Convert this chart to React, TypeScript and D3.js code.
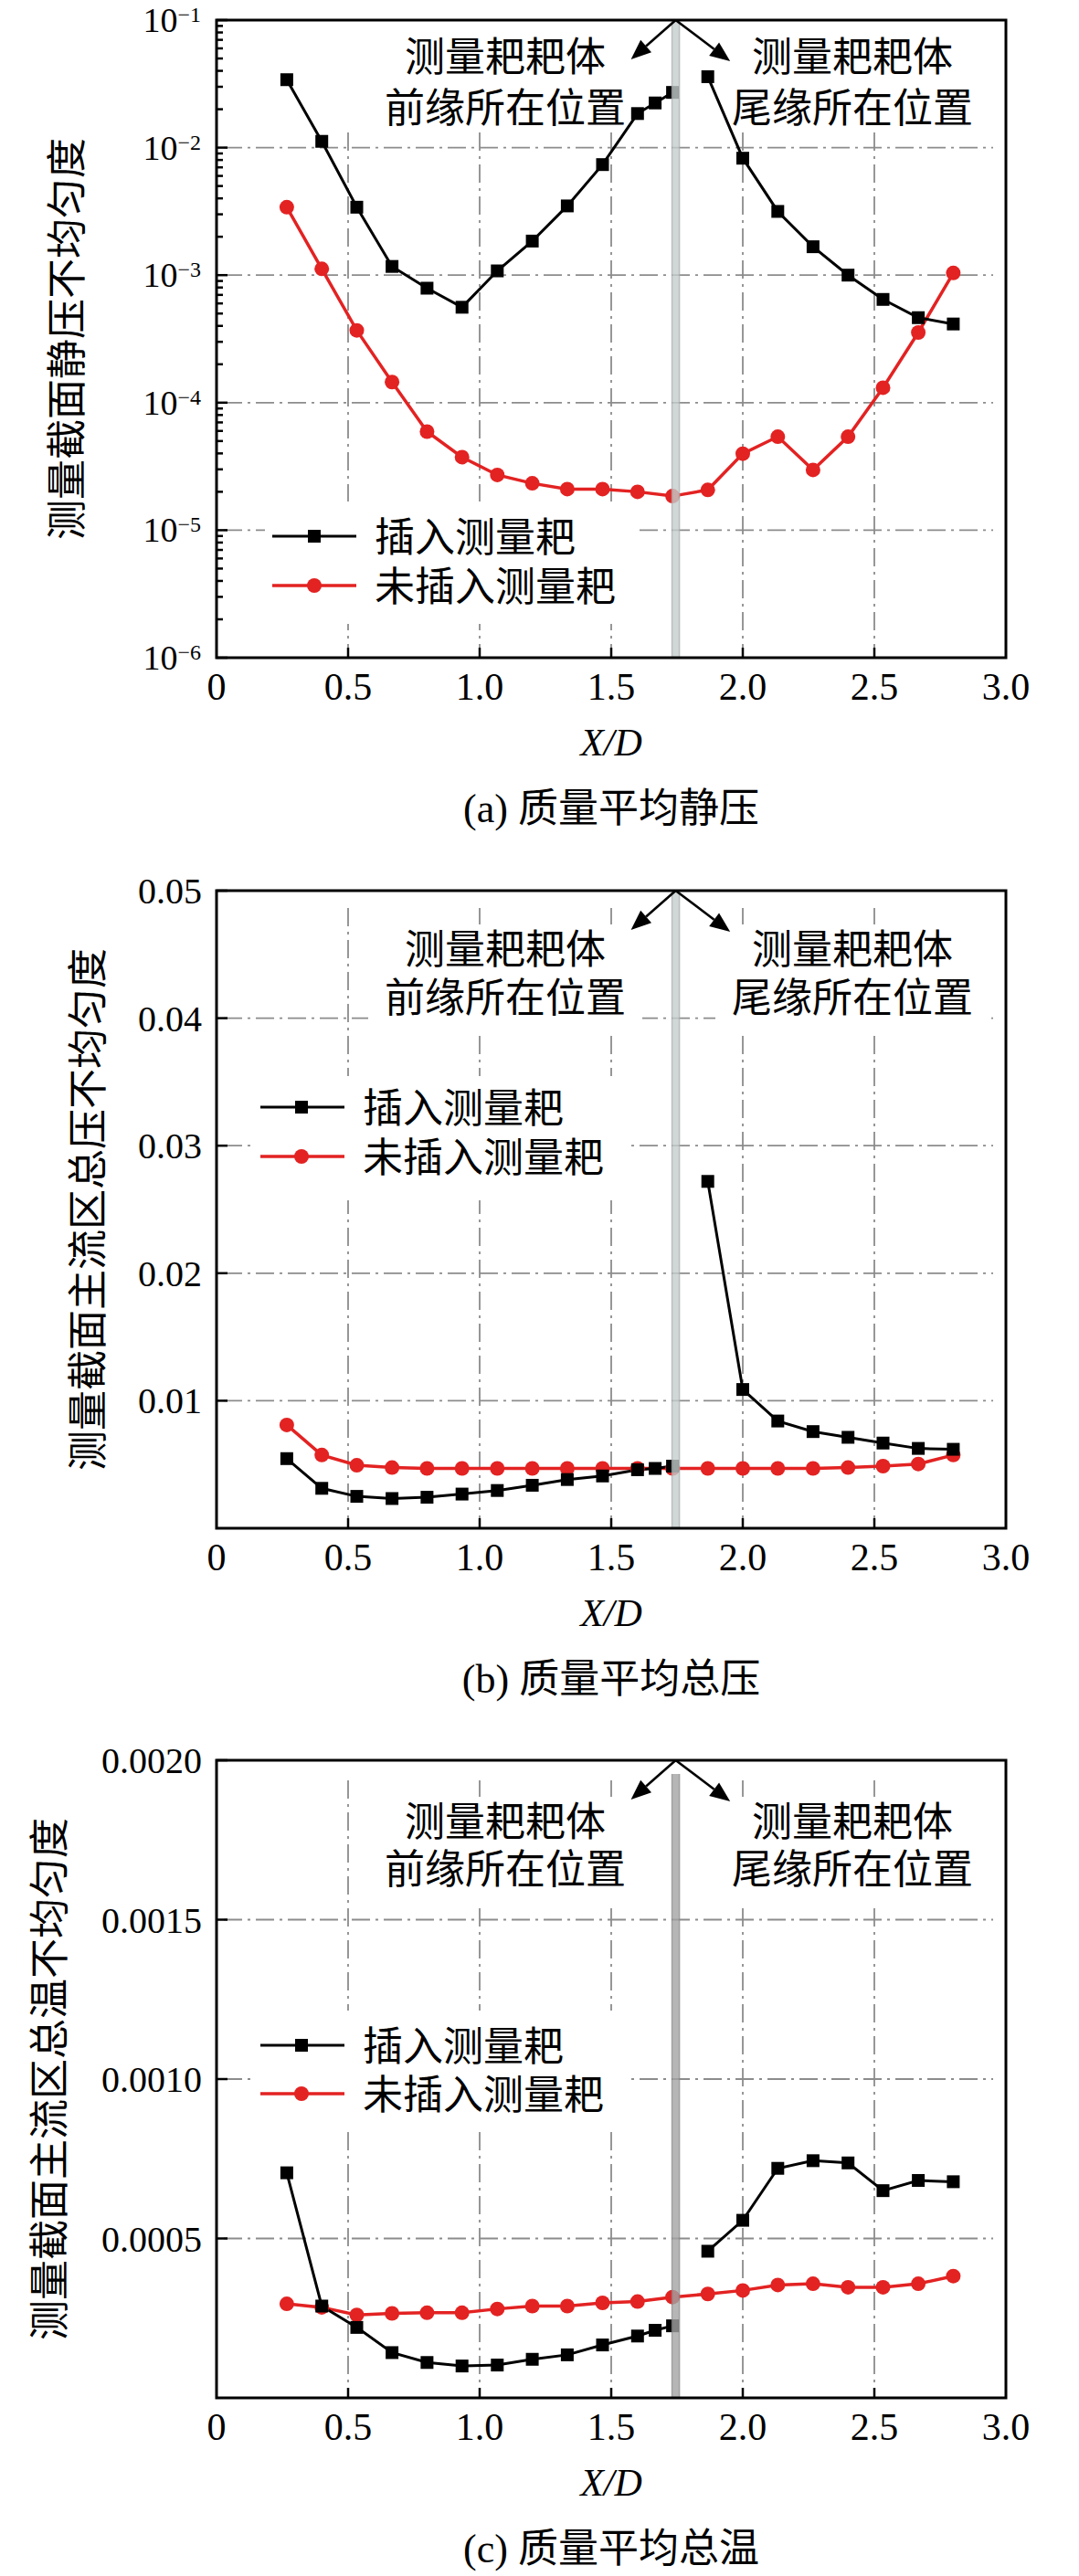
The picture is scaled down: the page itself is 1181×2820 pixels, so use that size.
import React from 'react';
import * as d3 from 'd3';

// x/D stations (black series has one extra station at 1.667)
const xBlack = [0.267, 0.4, 0.533, 0.667, 0.8, 0.933, 1.067, 1.2, 1.333, 1.467, 1.6, 1.667, 1.733, 1.867, 2.0, 2.133, 2.267, 2.4, 2.533, 2.667, 2.8];
const xRed = [0.267, 0.4, 0.533, 0.667, 0.8, 0.933, 1.067, 1.2, 1.333, 1.467, 1.6, 1.733, 1.867, 2.0, 2.133, 2.267, 2.4, 2.533, 2.667, 2.8];
const gapAfter = 12; // black line is broken across the rake body

const staticBlack = [0.0341, 0.0112, 0.00341, 0.00117, 0.00079, 0.00056, 0.00108, 0.00185, 0.00349, 0.00736, 0.0185, 0.0224, 0.0271, 0.036, 0.00826, 0.00316, 0.00167, 0.001, 0.000645, 0.000464, 0.000414];
const staticRed = [0.00341, 0.00112, 0.000369, 0.000145, 5.93e-5, 3.74e-5, 2.71e-5, 2.33e-5, 2.1e-5, 2.1e-5, 2.0e-5, 1.85e-5, 2.07e-5, 3.98e-5, 5.41e-5, 2.97e-5, 5.41e-5, 1.31e-4, 3.55e-4, 1.04e-3];

const totalPBlack = [0.00546, 0.00313, 0.0025, 0.00233, 0.00243, 0.00268, 0.00296, 0.00337, 0.00382, 0.0041, 0.00459, 0.00469, 0.00487, 0.0272, 0.01088, 0.00841, 0.00758, 0.00713, 0.00668, 0.00626, 0.00619];
const totalPRed = [0.0081, 0.00574, 0.00494, 0.00476, 0.00469, 0.00469, 0.00469, 0.00469, 0.00469, 0.00469, 0.00469, 0.00469, 0.00469, 0.00469, 0.00469, 0.00469, 0.00476, 0.00487, 0.00504, 0.00574];

const totalTBlack = [0.000706, 0.000288, 0.000221, 0.000142, 0.000111, 0.0001, 0.000103, 0.000121, 0.000135, 0.000166, 0.000194, 0.000212, 0.000226, 0.00046, 0.000557, 0.00072, 0.000744, 0.000737, 0.00065, 0.000682, 0.000678];
const totalTRed = [0.000295, 0.000284, 0.00026, 0.000265, 0.000267, 0.000267, 0.000279, 0.000288, 0.000288, 0.000298, 0.000302, 0.000316, 0.000326, 0.000337, 0.000354, 0.000358, 0.000347, 0.000347, 0.000358, 0.000382];

const xTicks = [0, 0.5, 1, 1.5, 2, 2.5, 3];
const xGrid = [0.5, 1, 1.5, 2, 2.5];
const staticTicks = [1e-6, 1e-5, 1e-4, 1e-3, 1e-2, 1e-1];
const staticGrid = [1e-5, 1e-4, 1e-3, 1e-2];
const totalPTicks = [0.01, 0.02, 0.03, 0.04, 0.05];
const totalPGrid = [0.01, 0.02, 0.03, 0.04];
const totalTTicks = [0.0005, 0.001, 0.0015, 0.002];
const totalTGrid = [0.0005, 0.001, 0.0015];

const rakeX = 1.745;
const legendNames = ['插入测量耙', '未插入测量耙'];
const leadText = ['测量耙耙体', '前缘所在位置'];
const trailText = ['测量耙耙体', '尾缘所在位置'];

const LEFT = 237;
const RIGHT = 1101;
const H = 698;
const RED = '#e32222';
const GRID = '#8c8c8c';
const SERIF = '"Liberation Serif", "Times New Roman", serif';
const CJK = '"Noto Sans CJK SC", sans-serif';
const MIXED = '"Liberation Serif", "Noto Sans CJK SC", serif';

const xS = d3.scaleLinear().domain([0, 3]).range([LEFT, RIGHT]);

function Arrow({ x0, y0, x1, y1 }: { x0: number; y0: number; x1: number; y1: number }) {
  const a = Math.atan2(y1 - y0, x1 - x0);
  const L = 22;
  const W = 9;
  const bx = x1 - L * Math.cos(a);
  const by = y1 - L * Math.sin(a);
  const px = -Math.sin(a) * W;
  const py = Math.cos(a) * W;
  return (
    <g>
      <line x1={x0} y1={y0} x2={bx} y2={by} stroke="#000" strokeWidth={2.6} />
      <polygon points={`${x1},${y1} ${bx + px},${by + py} ${bx - px},${by - py}`} fill="#000" />
    </g>
  );
}

interface PanelProps {
  top: number;
  y: any;
  ticks: number[];
  grid: number[];
  minor?: number[];
  fmt: (v: number, yy: number) => React.ReactNode;
  black: number[];
  red: number[];
  yLabel: string;
  yLabelX: number;
  caption: string;
  textRel: [number, number];
  textBoxes: boolean;
  legendRel: [number, number];
  legendX: [number, number, number, number];
  legendBox: [number, number, number, number];
  gridTop: number;
  bandTop: number;
  bandFill: string;
  bandEdge: string;
}

function Panel(p: PanelProps) {
  const top = p.top;
  const bottom = top + H;
  const y = p.y;
  const line = d3
    .line<[number, number]>()
    .x(d => xS(d[0]))
    .y(d => y(d[1]));
  const bPts: [number, number][] = xBlack.map((x, i) => [x, p.black[i]]);
  const rPts: [number, number][] = xRed.map((x, i) => [x, p.red[i]]);
  const seg1 = bPts.slice(0, gapAfter + 1);
  const seg2 = bPts.slice(gapAfter + 1);
  const apexX = xS(rakeX);
  const leadX = 553;
  const trailX = 933;
  const [lx0, lx1, lm, lt] = p.legendX;
  const cjkBase = 17;

  return (
    <g>
      {/* grid */}
      <g stroke={GRID} strokeWidth={1.8} strokeDasharray="20,6,3,6" fill="none">
        {p.grid.map(v => (
          <line key={'h' + v} x1={LEFT + 8} x2={RIGHT - 14} y1={y(v)} y2={y(v)} />
        ))}
        {xGrid.map(v => (
          <line key={'v' + v} x1={xS(v)} x2={xS(v)} y1={top + p.gridTop} y2={bottom} />
        ))}
      </g>

      {p.textBoxes && (
        <g fill="#fff">
          <rect x={leadX - 150} y={top + p.textRel[0] - 26} width={300} height={p.textRel[1] - p.textRel[0] + 64} />
          <rect x={trailX - 150} y={top + p.textRel[0] - 26} width={300} height={p.textRel[1] - p.textRel[0] + 64} />
        </g>
      )}
      <rect
        x={p.legendBox[0]}
        y={top + p.legendBox[1]}
        width={p.legendBox[2] - p.legendBox[0]}
        height={p.legendBox[3] - p.legendBox[1]}
        fill="#fff"
      />

      {/* annotation text */}
      <g fontFamily={CJK} fontSize={44} textAnchor="middle" fill="#000">
        <text x={leadX} y={top + p.textRel[0] + cjkBase}>{leadText[0]}</text>
        <text x={leadX} y={top + p.textRel[1] + cjkBase}>{leadText[1]}</text>
        <text x={trailX} y={top + p.textRel[0] + cjkBase}>{trailText[0]}</text>
        <text x={trailX} y={top + p.textRel[1] + cjkBase}>{trailText[1]}</text>
      </g>

      {/* series */}
      <path d={line(rPts) || ''} fill="none" stroke={RED} strokeWidth={3.5} />
      <path d={line(seg1) || ''} fill="none" stroke="#000" strokeWidth={3} />
      <path d={line(seg2) || ''} fill="none" stroke="#000" strokeWidth={3} />
      {rPts.map((d, i) => (
        <circle key={'r' + i} cx={xS(d[0])} cy={y(d[1])} r={8} fill={RED} />
      ))}
      {bPts.map((d, i) => (
        <rect key={'b' + i} x={xS(d[0]) - 7} y={y(d[1]) - 7} width={14} height={14} fill="#000" />
      ))}

      {/* rake body band */}
      <g opacity={0.8}>
        <rect x={apexX - 4.5} y={top + p.bandTop} width={9} height={H - p.bandTop} fill={p.bandFill} />
        <line x1={apexX - 4} x2={apexX - 4} y1={top + p.bandTop} y2={bottom} stroke={p.bandEdge} strokeWidth={1.5} />
        <line x1={apexX + 4} x2={apexX + 4} y1={top + p.bandTop} y2={bottom} stroke={p.bandEdge} strokeWidth={1.5} />
      </g>

      {/* arrows */}
      <Arrow x0={apexX} y0={top} x1={xS(1.575)} y1={top + 43} />
      <Arrow x0={apexX} y0={top} x1={xS(1.952)} y1={top + 45} />

      {/* legend */}
      <line x1={lx0} x2={lx1} y1={top + p.legendRel[0]} y2={top + p.legendRel[0]} stroke="#000" strokeWidth={3} />
      <rect x={lm - 7} y={top + p.legendRel[0] - 7} width={14} height={14} fill="#000" />
      <line x1={lx0} x2={lx1} y1={top + p.legendRel[1]} y2={top + p.legendRel[1]} stroke={RED} strokeWidth={3.5} />
      <circle cx={lm} cy={top + p.legendRel[1]} r={8} fill={RED} />
      <g fontFamily={CJK} fontSize={44} fill="#000">
        <text x={lt} y={top + p.legendRel[0] + cjkBase}>{legendNames[0]}</text>
        <text x={lt} y={top + p.legendRel[1] + cjkBase}>{legendNames[1]}</text>
      </g>

      {/* frame and ticks */}
      <rect x={LEFT} y={top} width={RIGHT - LEFT} height={H} fill="none" stroke="#000" strokeWidth={3} />
      <g stroke="#000" strokeWidth={2.5}>
        {p.ticks.map(v => (
          <line key={'yt' + v} x1={LEFT} x2={LEFT + 12} y1={y(v)} y2={y(v)} />
        ))}
        {(p.minor || []).map(v => (
          <line key={'ym' + v} x1={LEFT} x2={LEFT + 7} y1={y(v)} y2={y(v)} />
        ))}
        {xTicks.slice(1, -1).map(v => (
          <line key={'xt' + v} x1={xS(v)} x2={xS(v)} y1={bottom} y2={bottom - 11} />
        ))}
      </g>

      {/* tick labels */}
      <g fontFamily={SERIF} fill="#000">
        {p.ticks.map(v => (
          <g key={'yl' + v}>{p.fmt(v, y(v))}</g>
        ))}
        {xTicks.map(v => (
          <text key={'xl' + v} x={xS(v)} y={bottom + 46} fontSize={42} textAnchor="middle">
            {v === 0 ? '0' : d3.format('.1f')(v)}
          </text>
        ))}
        <text x={(LEFT + RIGHT) / 2} y={bottom + 107} fontSize={42} fontStyle="italic" textAnchor="middle">
          X/D
        </text>
      </g>

      <text
        transform={`translate(${p.yLabelX},${top + H / 2}) rotate(-90)`}
        y={cjkBase}
        fontFamily={CJK}
        fontSize={44}
        textAnchor="middle"
        fill="#000"
      >
        {p.yLabel}
      </text>

      <text x={(LEFT + RIGHT) / 2} y={bottom + 180} fontFamily={MIXED} fontSize={44} textAnchor="middle" fill="#000">
        {p.caption}
      </text>
    </g>
  );
}

const App: React.FC = () => {
  const topA = 22;
  const topB = 975;
  const topC = 1927;

  const yA = d3.scaleLog().domain([1e-6, 1e-1]).range([topA + H, topA]);
  const yB = d3.scaleLinear().domain([0, 0.05]).range([topB + H, topB]);
  const yC = d3.scaleLinear().domain([0, 0.002]).range([topC + H, topC]);

  const minorA: number[] = [];
  for (let e = -6; e < -1; e++) {
    for (let m = 2; m <= 9; m++) minorA.push(m * Math.pow(10, e));
  }

  const fmtLog = (v: number, yy: number) => (
    <text x={220} y={yy + 13} textAnchor="end">
      <tspan fontSize={38}>10</tspan>
      <tspan fontSize={24} dy={-11}>
        {'−' + Math.round(-Math.log10(v))}
      </tspan>
    </text>
  );
  const fmtLin = (digits: number) => (v: number, yy: number) => (
    <text x={221} y={yy + 14} fontSize={40} textAnchor="end">
      {v.toFixed(digits)}
    </text>
  );

  return (
    <svg
      width={1181}
      height={2820}
      style={{ position: 'absolute', left: 0, top: 0, background: '#fff' }}
    >
      <rect width={1181} height={2820} fill="#fff" />
      <Panel
        top={topA}
        y={yA}
        ticks={staticTicks}
        grid={staticGrid}
        minor={minorA}
        fmt={fmtLog}
        black={staticBlack}
        red={staticRed}
        yLabel="测量截面静压不均匀度"
        yLabelX={72}
        caption="(a) 质量平均静压"
        textRel={[39, 95]}
        textBoxes={false}
        legendRel={[565, 619]}
        legendX={[298, 390, 344, 410]}
        legendBox={[290, 527, 700, 661]}
        gridTop={123}
        bandTop={0}
        bandFill="#c6cdcd"
        bandEdge="#a7b0b0"
      />
      <Panel
        top={topB}
        y={yB}
        ticks={totalPTicks}
        grid={totalPGrid}
        fmt={fmtLin(2)}
        black={totalPBlack}
        red={totalPRed}
        yLabel="测量截面主流区总压不均匀度"
        yLabelX={95}
        caption="(b) 质量平均总压"
        textRel={[63, 116]}
        textBoxes={true}
        legendRel={[237, 291]}
        legendX={[285, 377, 330, 397]}
        legendBox={[275, 203, 690, 339]}
        gridTop={19}
        bandTop={0}
        bandFill="#c6cdcd"
        bandEdge="#a7b0b0"
      />
      <Panel
        top={topC}
        y={yC}
        ticks={totalTTicks}
        grid={totalTGrid}
        fmt={fmtLin(4)}
        black={totalTBlack}
        red={totalTRed}
        yLabel="测量截面主流区总温不均匀度"
        yLabelX={53}
        caption="(c) 质量平均总温"
        textRel={[66, 118]}
        textBoxes={true}
        legendRel={[312, 365]}
        legendX={[285, 377, 330, 397]}
        legendBox={[275, 274, 690, 406]}
        gridTop={22}
        bandTop={15}
        bandFill="#a4a4a4"
        bandEdge="#8a8a8a"
      />
    </svg>
  );
};

export default App;
